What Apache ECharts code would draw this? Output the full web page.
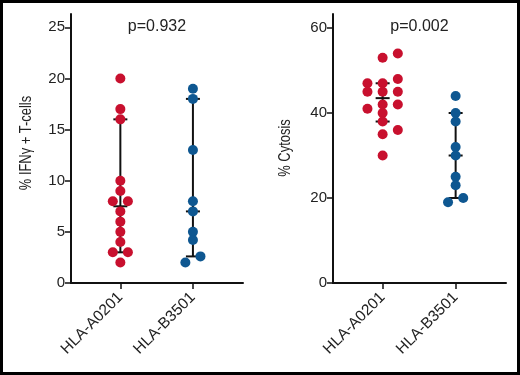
<!DOCTYPE html>
<html>
<head>
<meta charset="utf-8">
<script src="https://cdn.jsdelivr.net/npm/echarts@6/dist/echarts.min.js"></script>
<style>
  html, body { margin: 0; padding: 0; background: #fff; }
  #chart { width: 520px; height: 375px; }
</style>
</head>
<body>
<div id="chart"></div>
<script>
const categories = ['HLA-A0201', 'HLA-B3501'];

// % IFNγ + T-cells, one value per donor
const ifnA0201 = [20, 17, 16, 10, 9, 8, 8, 7, 6, 5, 4, 3, 3, 2];
const ifnB3501 = [19, 18, 13, 8, 7, 5, 4.2, 2.6, 2];
// % Cytosis
const cytA0201 = [54, 53, 48, 47, 47, 45, 45, 45, 42, 42, 41, 40, 38, 36, 35, 30];
const cytB3501 = [44, 40, 38, 32, 30, 25, 23, 20, 19];

// scatter lanes (dot column)
const ifnA0201Lane = [0, 0, 0, 0, 0, -1, 1, 0, 0, 0, 0, -1, 1, 0];
const ifnB3501Lane = [0, 0, 0, 0, 0, 0, 0, 1, -1];
const cytA0201Lane = [2, 0, 2, -2, 0, -2, 0, 2, 0, 2, -2, 0, 0, 2, 0, 0];
const cytB3501Lane = [0, 0, 0, 0, 0, 0, 0, 1, -1];

// error bars: [low, median, high]
const ifnBars = [[3, 7.5, 16], [2.6, 7, 18]];
const cytBars = [[38, 43.5, 47], [20, 30, 40]];

const ifnTicks = [0, 5, 10, 15, 20, 25];
const cytTicks = [0, 20, 40, 60];
const pValues = ['p=0.932', 'p=0.002'];
const yNames = ['% IFNγ + T-cells', '% Cytosis'];

const RED = '#c8102e';
const BLUE = '#0e5791';
const INK = '#111';
const LANE_STEP = 0.104;
const FONT = 'Liberation Sans, Arial, sans-serif';

const chart = echarts.init(document.getElementById('chart'));

const dots = (vals, lanes, cat) => vals.map((v, i) => [cat + lanes[i] * LANE_STEP, v]);

const grids = [
    { left: 71, top: 14, width: 172, height: 269 },
    { left: 333, top: 14, width: 173, height: 269 }
];

const xAxis = i => ({
    type: 'value',
    gridIndex: i,
    min: -0.68,
    max: 1.69,
    splitLine: { show: false },
    axisLine: { show: true, onZero: false, lineStyle: { color: INK, width: 2 } },
    axisTick: { show: true, customValues: [0, 1], length: 6, lineStyle: { color: INK, width: 1.5 } },
    axisLabel: {
        customValues: [0, 1],
        rotate: 45,
        margin: 12,
        color: '#222',
        fontSize: 15.5,
        fontFamily: FONT,
        formatter: v => categories[Math.round(v)]
    }
});

const yAxis = (i, max, ticks) => ({
    type: 'value',
    gridIndex: i,
    min: 0,
    max: max,
    splitLine: { show: false },
    axisLine: { show: true, onZero: false, lineStyle: { color: INK, width: 2 } },
    axisTick: { show: true, customValues: ticks, length: 6, lineStyle: { color: INK, width: 1.5 } },
    axisLabel: { customValues: ticks, margin: 6, color: '#222', fontSize: 15, fontFamily: FONT }
});

const barSeries = (i, bars) => ({
    type: 'custom',
    xAxisIndex: i,
    yAxisIndex: i,
    z: 1,
    data: bars.map((b, c) => [c, b[0], b[1], b[2]]),
    renderItem: (params, api) => {
        const x = api.value(0);
        const lo = api.coord([x, api.value(1)]);
        const md = api.coord([x, api.value(2)]);
        const hi = api.coord([x, api.value(3)]);
        const hw = 7;
        const style = { stroke: INK, lineWidth: 2 };
        const cap = p => ({ type: 'line', shape: { x1: p[0] - hw, y1: p[1], x2: p[0] + hw, y2: p[1] }, style });
        return {
            type: 'group',
            children: [
                { type: 'line', shape: { x1: lo[0], y1: lo[1], x2: hi[0], y2: hi[1] }, style },
                cap(lo), cap(md), cap(hi)
            ]
        };
    }
});

const dotSeries = (i, data, color) => ({
    type: 'scatter',
    xAxisIndex: i,
    yAxisIndex: i,
    z: 3,
    symbolSize: 10,
    itemStyle: { color: color, opacity: 1 },
    data: data
});

// condensed y-axis titles
const yTitlePos = [[26, 143], [285, 148]];
const yTitles = yNames.map((t, i) => ({
    type: 'text',
    x: yTitlePos[i][0],
    y: yTitlePos[i][1],
    rotation: Math.PI / 2,
    scaleX: 0.76,
    silent: true,
    style: {
        text: t,
        font: '17px ' + FONT,
        fill: '#222',
        textAlign: 'center',
        textVerticalAlign: 'middle'
    }
}));

chart.setOption({
    animation: false,
    title: pValues.map((t, i) => ({
        text: t,
        left: grids[i].left + grids[i].width / 2,
        top: 19,
        padding: 0,
        textAlign: 'center',
        textStyle: { fontSize: 16, fontWeight: 'normal', color: '#222', fontFamily: FONT }
    })),
    grid: grids,
    xAxis: [xAxis(0), xAxis(1)],
    yAxis: [yAxis(0, 26.3, ifnTicks), yAxis(1, 63.3, cytTicks)],
    series: [
        barSeries(0, ifnBars),
        barSeries(1, cytBars),
        dotSeries(0, dots(ifnA0201, ifnA0201Lane, 0), RED),
        dotSeries(0, dots(ifnB3501, ifnB3501Lane, 1), BLUE),
        dotSeries(1, dots(cytA0201, cytA0201Lane, 0), RED),
        dotSeries(1, dots(cytB3501, cytB3501Lane, 1), BLUE)
    ],
    graphic: yTitles.concat([{
        type: 'rect',
        shape: { x: 1.5, y: 1.5, width: 517, height: 372 },
        style: { fill: 'none', stroke: '#000', lineWidth: 3 },
        silent: true
    }])
});
</script>
</body>
</html>
